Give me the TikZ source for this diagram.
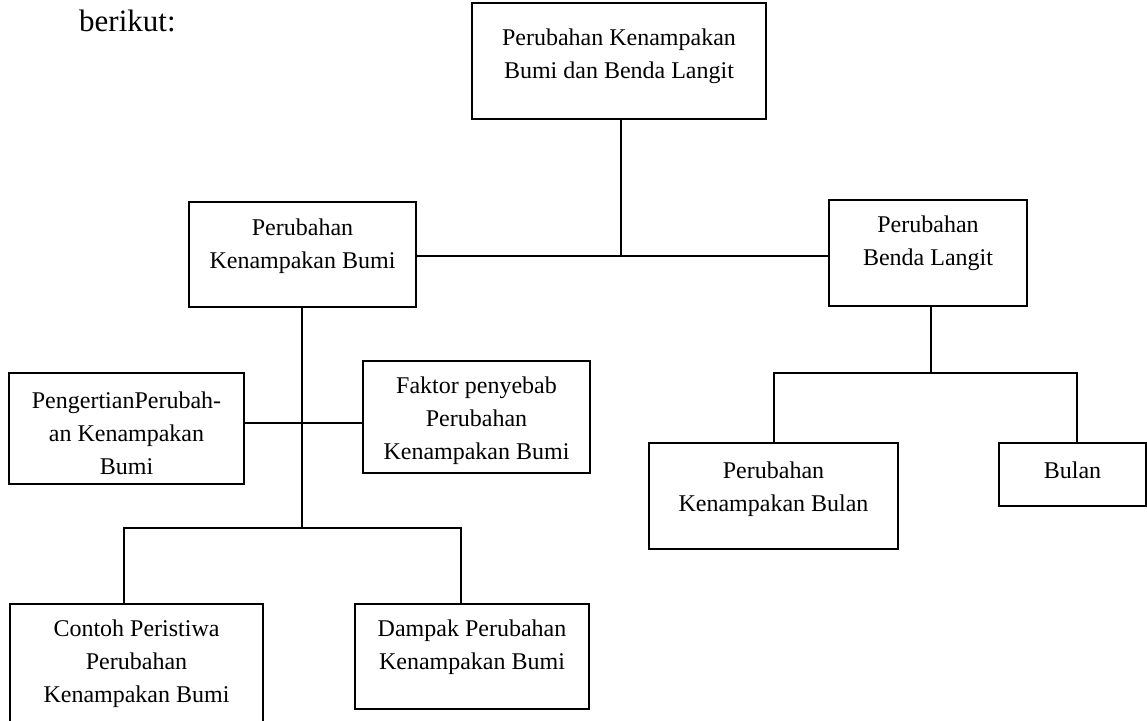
\documentclass[tikz,border=0pt]{standalone}
\usepackage{fontspec}
\setmainfont{Liberation Serif}
\newcommand{\bxtext}[4]{\parbox[c][#2pt][t]{#1pt}{\centering\fontsize{24}{33}\selectfont\vspace*{\dimexpr#3pt-17pt\relax}\rule{0pt}{17pt}#4}}
\tikzset{
  bx/.style={draw, line width=1.4pt, inner sep=0pt, outer sep=0pt, anchor=north west},
  conn/.style={line width=1.4pt},
  thickconn/.style={line width=2.2pt}
}
\begin{document}
\begin{tikzpicture}[x=1pt,y=-1pt]
\useasboundingbox (0,0) rectangle (1147,720);
\clip (0,0) rectangle (1147,720);
\node[anchor=base west, inner sep=0pt] (ber) at (79,31) {\fontsize{31}{36}\selectfont berikut:};

\node[bx] (T) at (472,3) {\bxtext{294}{116}{42}{Perubahan Kenampakan\\Bumi dan Benda Langit}};
\node[bx] (PKB) at (189,202) {\bxtext{227}{105}{33}{Perubahan\\Kenampakan Bumi}};
\node[bx] (PBL) at (829,200) {\bxtext{198}{106}{32}{Perubahan\\Benda Langit}};
\node[bx] (PG) at (9,373) {\bxtext{235}{111}{35}{PengertianPerubah-\\an Kenampakan\\Bumi}};
\node[bx] (FK) at (363,361) {\bxtext{227}{112}{32}{Faktor penyebab\\Perubahan\\Kenampakan Bumi}};
\node[bx] (PKBl) at (649,443) {\bxtext{249}{106}{35}{Perubahan\\Kenampakan Bulan}};
\node[bx] (BL) at (999,443) {\bxtext{147}{63}{35}{Bulan}};
\node[bx] (CT) at (10,604) {\bxtext{253}{140}{32}{Contoh Peristiwa\\Perubahan\\Kenampakan Bumi}};
\node[bx] (DP) at (355,604) {\bxtext{234}{105}{32}{Dampak Perubahan\\Kenampakan Bumi}};

\coordinate (tj) at (621,256);
\coordinate (pv) at (302,423);
\coordinate (cL) at (124,528);
\coordinate (cR) at (461,528);
\coordinate (bL) at (774,373);
\coordinate (bR) at (1077,373);
\coordinate (bj) at (931,373);

\draw[thickconn] (tj |- T.south) -- (tj);
\draw[conn] (PKB.east |- tj) -- (PBL.west |- tj);
\draw[thickconn] (pv |- PKB.south) -- (pv |- cL);
\draw[conn] (PG.east |- pv) -- (FK.west |- pv);
\draw[conn] (cL |- CT.north) -- (cL) -- (cR) -- (cR |- DP.north);
\draw[conn] (bj |- PBL.south) -- (bj);
\draw[conn] (bL |- PKBl.north) -- (bL) -- (bR) -- (bR |- BL.north);
\end{tikzpicture}
\end{document}
